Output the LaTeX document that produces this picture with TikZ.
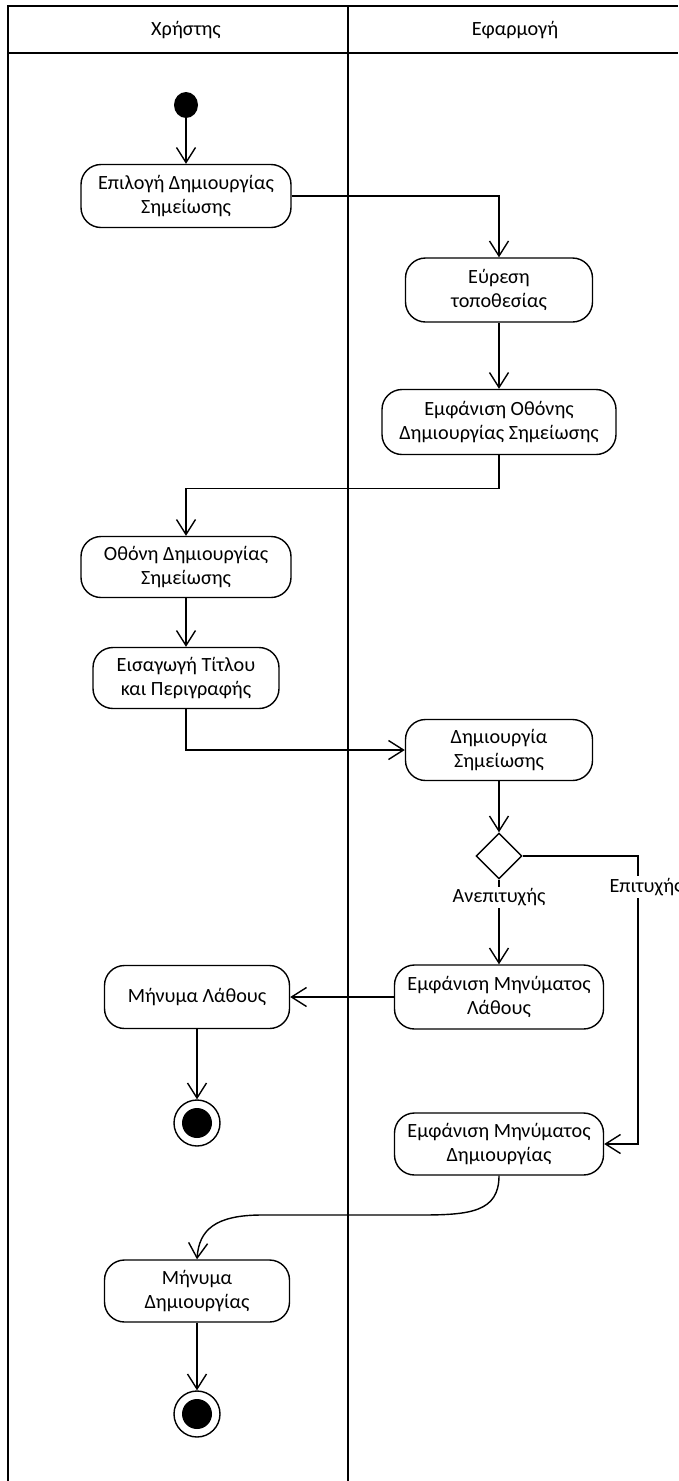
\documentclass[tikz,border=0pt]{standalone}
\usepackage{fontspec}
\setmainfont{Carlito}
\usetikzlibrary{arrows.meta,shapes.geometric,calc}
\begin{document}
\begin{tikzpicture}[x=1pt,y=-1pt,
  every node/.style={font=\fontsize{20.2}{24.5}\selectfont},
  lane/.style={line width=1.8pt},
  act/.style={draw,line width=1.4pt,rounded corners=20pt,align=center,inner sep=0pt},
  flow/.style={line width=1.4pt,-{Straight Barb[length=15pt,width=19pt,line width=1.4pt]}},
  guard/.style={fill=white,inner sep=2pt},
  decision/.style={draw,line width=1.4pt,diamond,minimum width=46pt,minimum height=46pt,inner sep=0pt},
  initial/.style={fill=black,ellipse,minimum width=24pt,minimum height=26pt,inner sep=0pt},
  final/.style={draw,line width=1.4pt,circle,minimum size=46pt,inner sep=0pt,
    path picture={\fill (path picture bounding box.center) circle (15pt);}}]
\useasboundingbox (0,0) rectangle (678,1481);

% swimlane frame
\draw[lane] (8,1481) -- (8,6) -- (678,6);
\draw[lane] (8,53) -- (678,53);
\draw[lane] (348,6) -- (348,1481);
\node (hUser) at (186,30) {Χρήστης};
\node (hApp) at (515,30) {Εφαρμογή};

% activities
\node[initial] (start) at (186,105) {};
\node[act,minimum width=210pt,minimum height=63pt] (n1) at (186,196) {Επιλογή Δημιουργίας\\Σημείωσης};
\node[act,minimum width=187pt,minimum height=64pt] (n2) at (499,290) {Εύρεση\\τοποθεσίας};
\node[act,minimum width=234pt,minimum height=65pt] (n3) at (499,422) {Εμφάνιση Οθόνης\\Δημιουργίας Σημείωσης};
\node[act,minimum width=210pt,minimum height=61pt] (n4) at (186,567) {Οθόνη Δημιουργίας\\Σημείωσης};
\node[act,minimum width=186pt,minimum height=61pt] (n5) at (186,678) {Εισαγωγή Τίτλου\\και Περιγραφής};
\node[act,minimum width=187pt,minimum height=61pt] (n6) at (499,750) {Δημιουργία\\Σημείωσης};
\node[decision] (dec) at (499,856) {};
\node[act,minimum width=209pt,minimum height=64pt] (n7) at (499,997) {Εμφάνιση Μηνύματος\\Λάθους};
\node[act,minimum width=185pt,minimum height=63pt] (n9) at (197,997) {Μήνυμα Λάθους};
\node[final] (f1) at (197,1123) {};
\node[act,minimum width=209pt,minimum height=62pt] (n8) at (499,1144) {Εμφάνιση Μηνύματος\\Δημιουργίας};
\node[act,minimum width=185pt,minimum height=62pt] (n10) at (197,1291) {Μήνυμα\\Δημιουργίας};
\node[final] (f2) at (197,1414) {};
\coordinate (okTurn) at (638,1144);

% control flow
\draw[flow] (start) -- (n1.north);
\draw[flow] (n1.east) -| (n2.north);
\draw[flow] (n2.south) -- (n3.north);
\draw[flow] (n3.south) -- ++(0,33) -| (n4.north);
\draw[flow] (n4.south) -- (n5.north);
\draw[flow] (n5.south) |- (n6.west);
\draw[flow] (n6.south) -- (dec.north);
\draw[flow] (dec.south) -- node[guard,pos=0.21] (gFail) {Ανεπιτυχής} (n7.north);
\draw[flow] (dec.east) -| (okTurn) -- (n8.east);
\node[guard] (gOk) at (646,887) {Επιτυχής};
\draw[flow] (n7.west) -- (n9.east);
\draw[flow] (n9.south) -- (f1.north);
\draw[flow] (n8.south) .. controls (499,1212) and (470,1215) .. (420,1215)
  -- (262,1215) .. controls (215,1215) and (199,1230) .. (n10.north);
\draw[flow] (n10.south) -- (f2.north);
\end{tikzpicture}
\end{document}
